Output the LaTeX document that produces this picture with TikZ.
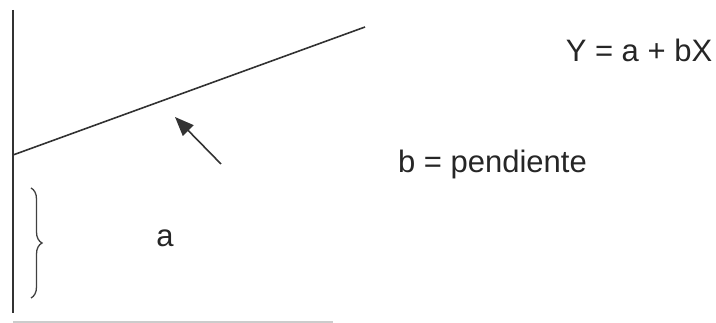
\documentclass[tikz,border=0pt]{standalone}
\usepackage{fontspec}
\setmainfont{Liberation Sans}
\usetikzlibrary{arrows.meta,decorations.pathreplacing}
\begin{document}
\begin{tikzpicture}[x=1pt,y=-1pt,
  ink/.style={draw=black!80,line width=1.6pt},
  lbl/.style={text=black!85,inner sep=0pt,anchor=base,font=\fontsize{31}{37}\selectfont}]
\useasboundingbox (0,0) rectangle (716,323);
\coordinate (axtop) at (13,10);
\coordinate (axbot) at (13,313);
\coordinate (l0) at (13,155);
\coordinate (l1) at (365,27);
\coordinate (atail) at (221,164);
\coordinate (atip) at (175,117);
\coordinate (btop) at (31,188);
\coordinate (bbot) at (31,298);
\coordinate (g0) at (13,322);
\coordinate (g1) at (333,322);
\draw[ink] (axtop) -- (axbot);
\draw[ink] (l0) -- (l1);
\draw[ink,-{Triangle[length=19pt,width=15pt]}] (atail) -- (atip);
\draw[draw=black!75,line width=1.3pt,decorate,decoration={brace,amplitude=11pt}] (btop) -- (bbot);
\draw[draw=black!20,line width=2pt] (g0) -- (g1);
\node[lbl] (eq) at (639,62) {Y = a + bX};
\node[lbl] (pend) at (492.5,173) {b = pendiente};
\node[lbl] (a) at (165,247) {a};
\end{tikzpicture}
\end{document}
